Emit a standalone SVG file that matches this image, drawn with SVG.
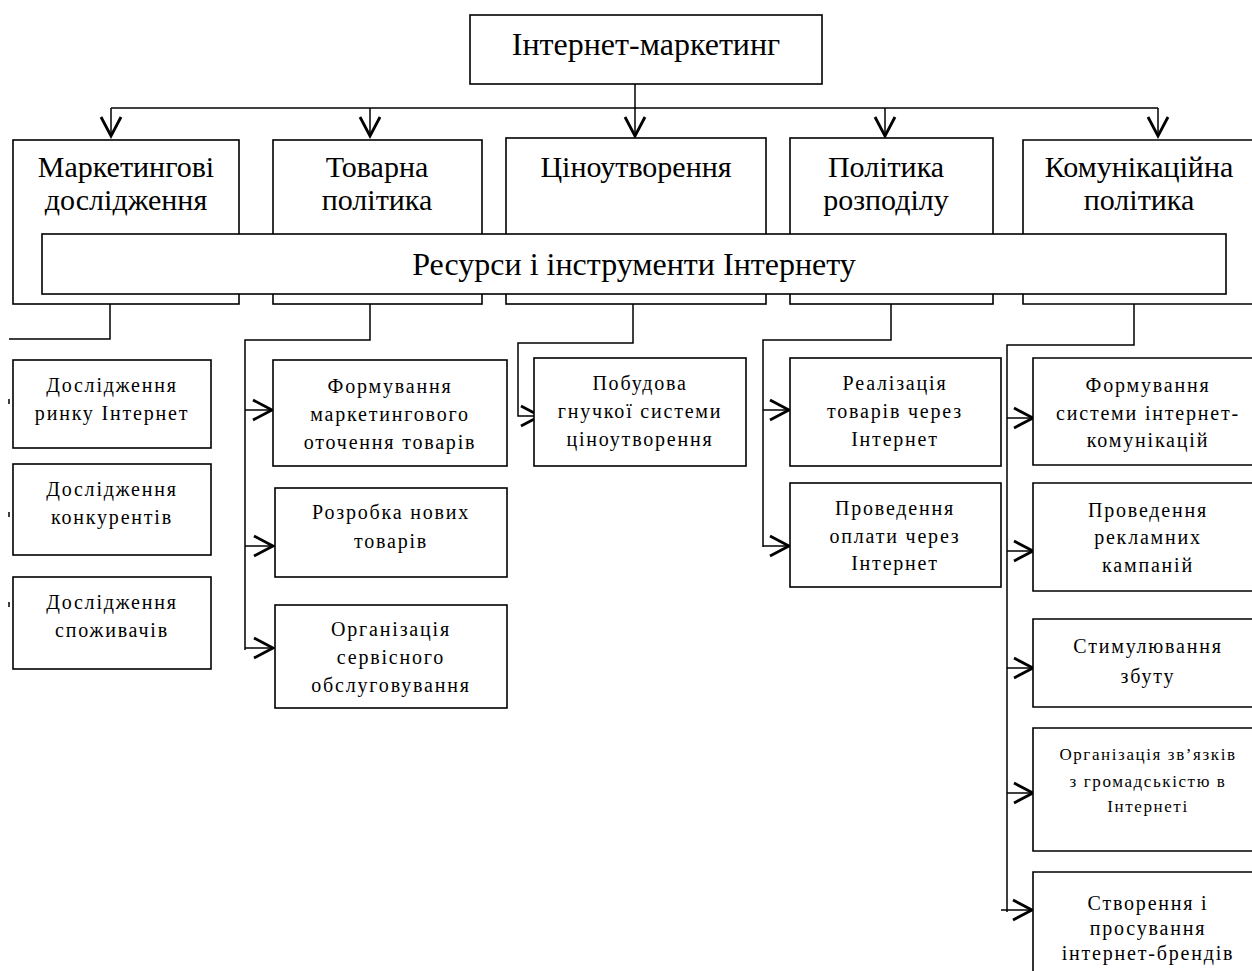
<svg xmlns="http://www.w3.org/2000/svg" width="1252" height="971" viewBox="0 0 1252 971">
<defs>
<style>
.b{fill:#fff;stroke:#000;stroke-width:1.6}
.c{fill:none;stroke:#000;stroke-width:1.5}
.t{font-family:"Liberation Serif","Times New Roman",serif;fill:#000;text-anchor:middle}
.L{font-size:32px}
.M{font-size:30px}
.s{font-size:20px;letter-spacing:1.8px}
.xs{font-size:17px;letter-spacing:1.6px}
</style>
<marker id="ar" markerUnits="userSpaceOnUse" markerWidth="24" markerHeight="24" refX="0" refY="0" orient="auto" style="overflow:visible">
<path d="M-19,-10 L0,0 L-19,10" fill="none" stroke="#000" stroke-width="2.8"/>
</marker>
</defs>
<rect width="1252" height="971" fill="#fff"/>

<g id="connectors">
<polyline class="c" points="111,108 1158,108"/>
<line class="c" x1="111" y1="108" x2="111" y2="136" marker-end="url(#ar)"/>
<line class="c" x1="370" y1="108" x2="370" y2="136" marker-end="url(#ar)"/>
<line class="c" x1="635" y1="84" x2="635" y2="136" marker-end="url(#ar)"/>
<line class="c" x1="885" y1="108" x2="885" y2="136" marker-end="url(#ar)"/>
<line class="c" x1="1158" y1="108" x2="1158" y2="136" marker-end="url(#ar)"/>

<polyline class="c" points="110,304 110,339 9,339"/>
<line class="c" x1="9" y1="399" x2="9" y2="404"/>
<line class="c" x1="9" y1="512" x2="9" y2="517"/>
<line class="c" x1="9" y1="602" x2="9" y2="607"/>

<polyline class="c" points="370,304 370,340 245,340 245,650"/>
<line class="c" x1="245" y1="410" x2="272" y2="410" marker-end="url(#ar)"/>
<line class="c" x1="245" y1="546" x2="273" y2="546" marker-end="url(#ar)"/>
<line class="c" x1="245" y1="648" x2="273" y2="648" marker-end="url(#ar)"/>

<polyline class="c" points="633,304 633,343 518,343 518,416 540,416" marker-end="url(#ar)"/>

<polyline class="c" points="891,304 891,340 763,340 763,547"/>
<line class="c" x1="763" y1="410" x2="789" y2="410" marker-end="url(#ar)"/>
<line class="c" x1="763" y1="546" x2="789" y2="546" marker-end="url(#ar)"/>

<polyline class="c" points="1134,304 1134,345 1007,345 1007,912"/>
<line class="c" x1="1007" y1="418" x2="1033" y2="418" marker-end="url(#ar)"/>
<line class="c" x1="1007" y1="551" x2="1033" y2="551" marker-end="url(#ar)"/>
<line class="c" x1="1007" y1="668" x2="1033" y2="668" marker-end="url(#ar)"/>
<line class="c" x1="1007" y1="793" x2="1033" y2="793" marker-end="url(#ar)"/>
<line class="c" x1="1001" y1="910" x2="1032" y2="910" marker-end="url(#ar)"/>
</g>

<g id="root">
<rect class="b" x="470" y="15" width="352" height="69"/>
<text class="t L" x="646" y="55">Інтернет-маркетинг</text>
</g>

<g id="n-research">
<rect class="b" x="13" y="140" width="226" height="164"/>
<text class="t M" x="126" y="177">Маркетингові</text>
<text class="t M" x="126" y="210">дослідження</text>
</g>
<g id="n-product">
<rect class="b" x="273" y="140" width="209" height="164"/>
<text class="t M" x="377" y="177">Товарна</text>
<text class="t M" x="377" y="210">політика</text>
</g>
<g id="n-price">
<rect class="b" x="506" y="138" width="260" height="166"/>
<text class="t M" x="636" y="177">Ціноутворення</text>
</g>
<g id="n-distribution">
<rect class="b" x="790" y="138" width="203" height="166"/>
<text class="t M" x="886" y="177">Політика</text>
<text class="t M" x="886" y="210">розподілу</text>
</g>
<g id="n-communication">
<path class="b" d="M1260,140 H1023 V304 H1260"/>
<text class="t M" x="1139" y="177">Комунікаційна</text>
<text class="t M" x="1139" y="210">політика</text>
</g>

<g id="n-resources">
<rect class="b" x="42" y="234" width="1184" height="60"/>
<text class="t L" x="634" y="275">Ресурси і інструменти Інтернету</text>
</g>

<g id="n-d1">
<rect class="b" x="13" y="360" width="198" height="88"/>
<text class="t s" x="112" y="392">Дослідження</text>
<text class="t s" x="112" y="420">ринку Інтернет</text>
</g>
<g id="n-d2">
<rect class="b" x="13" y="464" width="198" height="91"/>
<text class="t s" x="112" y="496">Дослідження</text>
<text class="t s" x="112" y="524">конкурентів</text>
</g>
<g id="n-d3">
<rect class="b" x="13" y="577" width="198" height="92"/>
<text class="t s" x="112" y="609">Дослідження</text>
<text class="t s" x="112" y="637">споживачів</text>
</g>

<g id="n-f1">
<rect class="b" x="273" y="360" width="234" height="106"/>
<text class="t s" x="390" y="393">Формування</text>
<text class="t s" x="390" y="421">маркетингового</text>
<text class="t s" x="390" y="449">оточення товарів</text>
</g>
<g id="n-f2">
<rect class="b" x="275" y="488" width="232" height="89"/>
<text class="t s" x="391" y="519">Розробка нових</text>
<text class="t s" x="391" y="548">товарів</text>
</g>
<g id="n-f3">
<rect class="b" x="275" y="605" width="232" height="103"/>
<text class="t s" x="391" y="636">Організація</text>
<text class="t s" x="391" y="664">сервісного</text>
<text class="t s" x="391" y="692">обслуговування</text>
</g>

<g id="n-p1">
<rect class="b" x="534" y="358" width="212" height="108"/>
<text class="t s" x="640" y="390">Побудова</text>
<text class="t s" x="640" y="418">гнучкої системи</text>
<text class="t s" x="640" y="446">ціноутворення</text>
</g>

<g id="n-r1">
<rect class="b" x="790" y="358" width="211" height="108"/>
<text class="t s" x="895" y="390">Реалізація</text>
<text class="t s" x="895" y="418">товарів через</text>
<text class="t s" x="895" y="446">Інтернет</text>
</g>
<g id="n-r2">
<rect class="b" x="790" y="483" width="211" height="104"/>
<text class="t s" x="895" y="515">Проведення</text>
<text class="t s" x="895" y="543">оплати через</text>
<text class="t s" x="895" y="570">Інтернет</text>
</g>

<g id="n-k1">
<path class="b" d="M1260,358 H1033 V465 H1260"/>
<text class="t s" x="1148" y="392">Формування</text>
<text class="t s" x="1148" y="420">системи інтернет-</text>
<text class="t s" x="1148" y="447">комунікацій</text>
</g>
<g id="n-k2">
<path class="b" d="M1260,483 H1033 V591 H1260"/>
<text class="t s" x="1148" y="517">Проведення</text>
<text class="t s" x="1148" y="544">рекламних</text>
<text class="t s" x="1148" y="572">кампаній</text>
</g>
<g id="n-k3">
<path class="b" d="M1260,619 H1033 V707 H1260"/>
<text class="t s" x="1148" y="653">Стимулювання</text>
<text class="t s" x="1148" y="683">збуту</text>
</g>
<g id="n-k4">
<path class="b" d="M1260,728 H1033 V851 H1260"/>
<text class="t xs" x="1148" y="760">Організація зв’язків</text>
<text class="t xs" x="1148" y="787">з громадськістю в</text>
<text class="t xs" x="1148" y="812">Інтернеті</text>
</g>
<g id="n-k5">
<path class="b" d="M1260,872 H1033 V980"/>
<text class="t s" x="1148" y="910">Створення і</text>
<text class="t s" x="1148" y="935">просування</text>
<text class="t s" x="1148" y="960">інтернет-брендів</text>
</g>
</svg>
